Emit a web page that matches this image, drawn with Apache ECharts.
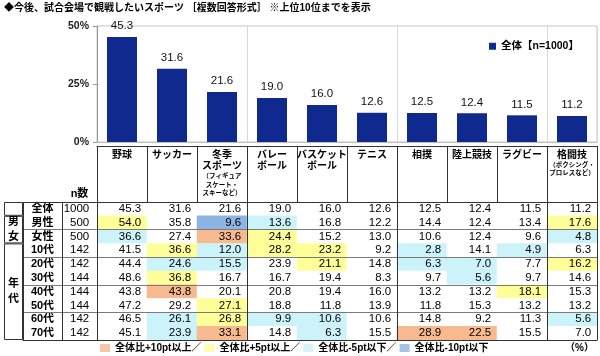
<!DOCTYPE html>
<html><head><meta charset="utf-8">
<script src="https://cdn.jsdelivr.net/npm/echarts@6/dist/echarts.min.js"></script>
<style>html,body{margin:0;padding:0;background:#fff}#c{width:600px;height:356px}</style>
</head><body><div id="c"></div>
<script>
// ---- data ----
const titleText = '◆今後、試合会場で観戦したいスポーツ ［複数回答形式］ ※上位10位までを表示';
const sports = ['野球','サッカー','冬季スポーツ','バレーボール','バスケットボール','テニス','相撲','陸上競技','ラグビー','格闘技'];
const headerMain = [['野球'],['サッカー'],['冬季','スポーツ'],['バレー','ボール'],['バスケット','ボール'],['テニス'],['相撲'],['陸上競技'],['ラグビー'],['格闘技']];
const headerNote = [[],[],['（フィギュア','スケート・','スキーなど）'],[],[],[],[],[],[],['（ボクシング・','プロレスなど）']];
const totalValues = [45.3,31.6,21.6,19.0,16.0,12.6,12.5,12.4,11.5,11.2];
const barLegendName = '全体【n=1000】';
const yMin = 0, yMax = 50, yStep = 25;
const nHeader = 'n数';
const rowLabels = ['全体','男性','女性','10代','20代','30代','40代','50代','60代','70代'];
const rowN = [1000,500,500,142,142,144,144,144,142,142];
const groupNames = ['', '男女', '年代'];
const groupRows = [1, 2, 7];
const tableValues = [
  [45.3,31.6,21.6,19.0,16.0,12.6,12.5,12.4,11.5,11.2],
  [54.0,35.8, 9.6,13.6,16.8,12.2,14.4,12.4,13.4,17.6],
  [36.6,27.4,33.6,24.4,15.2,13.0,10.6,12.4, 9.6, 4.8],
  [41.5,36.6,12.0,28.2,23.2, 9.2, 2.8,14.1, 4.9, 6.3],
  [44.4,24.6,15.5,23.9,21.1,14.8, 6.3, 7.0, 7.7,16.2],
  [48.6,36.8,16.7,16.7,19.4, 8.3, 9.7, 5.6, 9.7,14.6],
  [43.8,43.8,20.1,20.8,19.4,16.0,13.2,13.2,18.1,15.3],
  [47.2,29.2,27.1,18.8,11.8,13.9,11.8,15.3,13.2,13.2],
  [46.5,26.1,26.8, 9.9,10.6,10.6,14.8, 9.2,11.3, 5.6],
  [45.1,23.9,33.1,14.8, 6.3,15.5,28.9,22.5,15.5, 7.0]
];
// 0 none, 1 +10pt, 2 +5pt, 3 -5pt, 4 -10pt
const highlight = [
  [0,0,0,0,0,0,0,0,0,0],
  [2,0,4,3,0,0,0,0,0,2],
  [3,0,1,2,0,0,0,0,0,3],
  [0,2,3,2,2,0,3,0,3,0],
  [0,3,3,0,2,0,3,3,0,2],
  [0,2,0,0,0,0,0,3,0,0],
  [0,1,0,0,0,0,0,0,2,0],
  [0,0,2,0,0,0,0,0,0,0],
  [0,3,2,3,3,0,0,0,0,3],
  [0,3,1,0,3,0,1,1,0,0]
];
const highlightNames = ['全体比+10pt以上／','全体比+5pt以上／','全体比-5pt以下／','全体比-10pt以下'];
const unitLabel = '（%）';

// ---- styles ----
const FONT = "'Liberation Sans','Noto Sans CJK JP',sans-serif";
const barColor = '#10298F';
const highlightColors = ['#F7B98E','#FFFF99','#CCF3F9','#8DB4E2'];
const dark = '#333';
const rowLine = '#7a7a7a';

const cellData = [];
tableValues.forEach((row, r) => row.forEach((v, c) => cellData.push([c, r, v, highlight[r][c]])));
const labelData = rowLabels.map((s, r) => [0, r, 0, 0]);
const nData = rowN.map((n, r) => [0, r, n, 0]);

const chart = echarts.init(document.getElementById('c'), null, {renderer: 'canvas'});
const hiddenCat = (data, gi, extra) => Object.assign({
  type: 'category', gridIndex: gi, data: data,
  axisLabel: {show: false}, axisTick: {show: false}, axisLine: {show: false}, splitLine: {show: false}
}, extra || {});
const darkLine = {show: true, lineStyle: {color: dark}};

const option = {
  animation: false,
  backgroundColor: '#fff',
  textStyle: {fontFamily: FONT},
  title: [
    {text: titleText, left: 4, top: 3, padding: 0,
     textStyle: {fontSize: 10, fontWeight: 'bold', color: '#000', fontFamily: FONT}},
    {text: unitLabel, right: 6, top: 343, padding: 0,
     textStyle: {fontSize: 10, fontWeight: 'bold', color: '#000', fontFamily: FONT}}
  ],
  legend: [
    {data: [barLegendName], left: 489, top: 41, padding: 0, icon: 'rect', itemWidth: 7, itemHeight: 7,
     selectedMode: false, textStyle: {fontSize: 10.5, fontWeight: 'bold', color: '#000', fontFamily: FONT}},
    {data: highlightNames, left: 100, top: 343, padding: 0, icon: 'rect', itemWidth: 10, itemHeight: 8, itemGap: 3,
     selectedMode: false, textStyle: {fontSize: 10, fontWeight: 'bold', color: '#000', fontFamily: FONT}}
  ],
  visualMap: [{
    type: 'piecewise', show: false, dimension: 3, seriesIndex: [1, 2, 3],
    pieces: [{value: 0, color: '#ffffff'}].concat(highlightColors.map((c, i) => ({value: i + 1, color: c})))
  }],
  grid: [
    {left: 97, top: 26, width: 500, height: 116, show: true, borderColor: '#c8c8c8', borderWidth: 1, outerBoundsMode: 'none'},
    {left: 97, top: 146, width: 500, height: 56, outerBoundsMode: 'none'},
    {left: 97, top: 202, width: 500, height: 138, outerBoundsMode: 'none'},
    {left: 23, top: 202, width: 39, height: 138, outerBoundsMode: 'none'},
    {left: 4, top: 202, width: 19, height: 138, outerBoundsMode: 'none'},
    {left: 62, top: 202, width: 35, height: 138, outerBoundsMode: 'none'}
  ],
  xAxis: [
    hiddenCat(sports, 0, {axisLine: {show: true, lineStyle: {color: '#bfbfbf'}},
      splitLine: {show: true, lineStyle: {color: '#d9d9d9'}}}),
    hiddenCat(sports, 1, {position: 'top', z: 5, axisLine: darkLine, splitLine: darkLine,
      axisLabel: {show: true, inside: true, interval: 0, margin: 3, verticalAlign: 'top', align: 'center',
        formatter: (v, idx) => headerMain[idx].map(s => '{b|' + s + '}')
          .concat(headerNote[idx].map(s => '{s|' + s + '}')).join('\n'),
        rich: {
          b: {fontSize: 10, fontWeight: 'bold', lineHeight: 11.5, color: '#000', fontFamily: FONT},
          s: {fontSize: 6.5, fontWeight: 'bold', lineHeight: 8.5, color: '#000', fontFamily: FONT}
        }}}),
    hiddenCat(sports, 2, {position: 'bottom', z: 5, axisLine: darkLine, splitLine: darkLine}),
    hiddenCat(sports, 2, {position: 'top', z: 5, axisLine: darkLine}),
    hiddenCat([''], 3, {position: 'top', z: 5, axisLine: darkLine, splitLine: darkLine}),
    hiddenCat([''], 3, {position: 'bottom', z: 5, axisLine: darkLine}),
    hiddenCat([''], 4),
    hiddenCat([nHeader], 5, {position: 'top', z: 5, axisLine: darkLine, splitLine: darkLine,
      axisLabel: {show: true, margin: 3, interval: 0, fontSize: 11, fontWeight: 'bold', color: '#000', fontFamily: FONT}}),
    hiddenCat([nHeader], 5, {position: 'bottom', z: 5, axisLine: darkLine})
  ],
  yAxis: [
    {type: 'value', gridIndex: 0, min: yMin, max: yMax, interval: yStep,
     axisLine: {show: true, lineStyle: {color: '#999'}},
     axisTick: {show: true, length: 4, lineStyle: {color: '#999'}},
     splitLine: {show: false},
     axisLabel: {formatter: '{value}%', fontSize: 10.5, fontWeight: 'bold', color: '#222', margin: 8, fontFamily: FONT}},
    hiddenCat([''], 1),
    hiddenCat(rowLabels, 2, {inverse: true, z: 5, splitLine: {show: true, lineStyle: {color: rowLine}}}),
    hiddenCat(rowLabels, 3, {inverse: true, z: 5, splitLine: {show: true, lineStyle: {color: rowLine}}}),
    {type: 'value', gridIndex: 4, min: 0, max: groupRows.reduce((a, b) => a + b, 0), inverse: true, show: false},
    hiddenCat(rowLabels, 5, {inverse: true, z: 5, splitLine: {show: true, lineStyle: {color: rowLine}}})
  ],
  series: [
    {name: barLegendName, type: 'bar', xAxisIndex: 0, yAxisIndex: 0, data: totalValues, barWidth: 30,
     itemStyle: {color: barColor},
     label: {show: true, position: 'top', distance: 5, fontSize: 11.5, color: '#111', fontFamily: FONT,
       formatter: p => p.value.toFixed(1)}},
    {type: 'heatmap', xAxisIndex: 2, yAxisIndex: 2, data: cellData, silent: true,
     label: {show: true, position: 'insideRight', distance: 6, fontSize: 11.5, color: '#000', fontFamily: FONT,
       formatter: p => p.value[2].toFixed(1)}},
    {type: 'heatmap', xAxisIndex: 4, yAxisIndex: 3, data: labelData, silent: true,
     label: {show: true, position: 'inside', fontSize: 11, fontWeight: 'bold', color: '#000', fontFamily: FONT,
       formatter: p => rowLabels[p.value[1]]}},
    {type: 'heatmap', xAxisIndex: 7, yAxisIndex: 5, data: nData, silent: true,
     label: {show: true, position: 'insideRight', distance: 8, fontSize: 11.5, color: '#000', fontFamily: FONT,
       formatter: p => String(p.value[2])}}
  ].concat(groupNames.map((g, k) => ({
    type: 'bar', xAxisIndex: 6, yAxisIndex: 4, stack: 'grp', barWidth: '100%', silent: true,
    data: [groupRows[k]],
    itemStyle: {color: '#fff', borderColor: dark, borderWidth: 1},
    label: {show: true, position: 'inside', formatter: g.split('').join('\n'), fontSize: 11, fontWeight: 'bold',
      lineHeight: 15, color: '#000', fontFamily: FONT}
  }))).concat(highlightNames.map((nm, i) => ({
    name: nm, type: 'scatter', xAxisIndex: 0, yAxisIndex: 0, data: [], itemStyle: {color: highlightColors[i]}
  })))
};
chart.setOption(option);
</script>
</body></html>
